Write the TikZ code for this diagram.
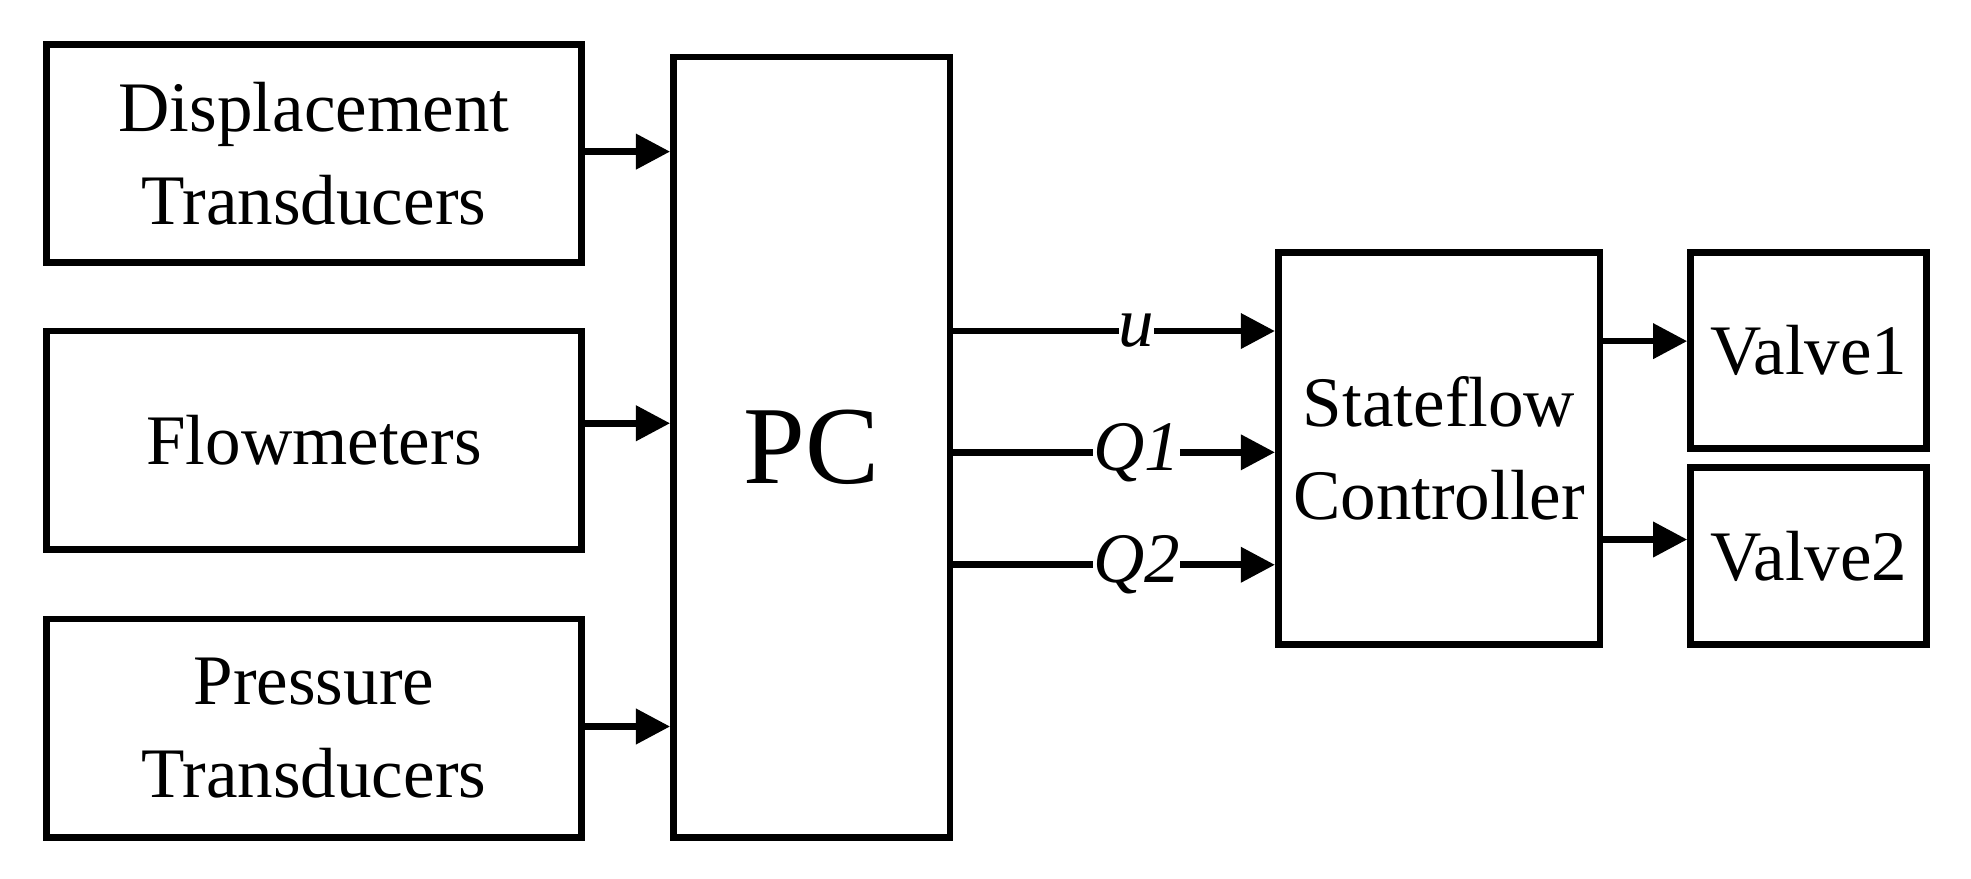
\documentclass[tikz,border=0pt]{standalone}
\usepackage{fontspec}
\setmainfont{Liberation Serif}
\usetikzlibrary{arrows.meta}
\tikzstyle{r} = [rectangle, line width=1.5pt, text centered, align=center, draw=black, font=\fontsize{16}{21}\selectfont]
\tikzstyle{a} = [line width=1.5pt, -{Triangle[length=0.27cm,width=0.27cm]}]
\tikzstyle{l} = [pos=0.57, fill=white, inner sep=0pt, font=\fontsize{16}{18}\selectfont\itshape]
\begin{document}
\begin{tikzpicture}
			\useasboundingbox (0,0) rectangle (15.6,6.95);
			\node[r,minimum width=4.23cm,minimum height=1.73cm](disp) at (2.485,5.735){Displacement\\Transducers};
			\node[r,minimum width=4.23cm,minimum height=1.73cm](flow) at (2.485,3.465){Flowmeters};
			\node[r,minimum width=4.23cm,minimum height=1.73cm](pres) at (2.485,1.185){Pressure\\Transducers};
			\node[r,minimum width=2.19cm,minimum height=6.18cm,font=\fontsize{25}{30}\selectfont](pc) at (6.425,3.41){PC};
			\node[r,minimum width=2.54cm,minimum height=3.1cm](sf) at (11.39,3.4){Stateflow\\Controller};
			\node[r,minimum width=1.87cm,minimum height=1.55cm](v1) at (14.315,4.175){Valve1};
			\node[r,minimum width=1.87cm,minimum height=1.4cm](v2) at (14.315,2.55){Valve2};
			
			\draw[a] (disp.east |- 0,5.75) -- (pc.west |- 0,5.75);
			\draw[a] (flow.east |- 0,3.6) -- (pc.west |- 0,3.6);
			\draw[a] (pres.east |- 0,1.2) -- (pc.west |- 0,1.2);
			\draw[a] (pc.east |- 0,4.33) -- node[l]{u} (sf.west |- 0,4.33);
			\draw[a] (pc.east |- 0,3.37) -- node[l]{Q1} (sf.west |- 0,3.37);
			\draw[a] (pc.east |- 0,2.48) -- node[l]{Q2} (sf.west |- 0,2.48);
			\draw[a] (sf.east |- 0,4.25) -- (v1.west |- 0,4.25);
			\draw[a] (sf.east |- 0,2.68) -- (v2.west |- 0,2.68);
			\end{tikzpicture}
\end{document}
